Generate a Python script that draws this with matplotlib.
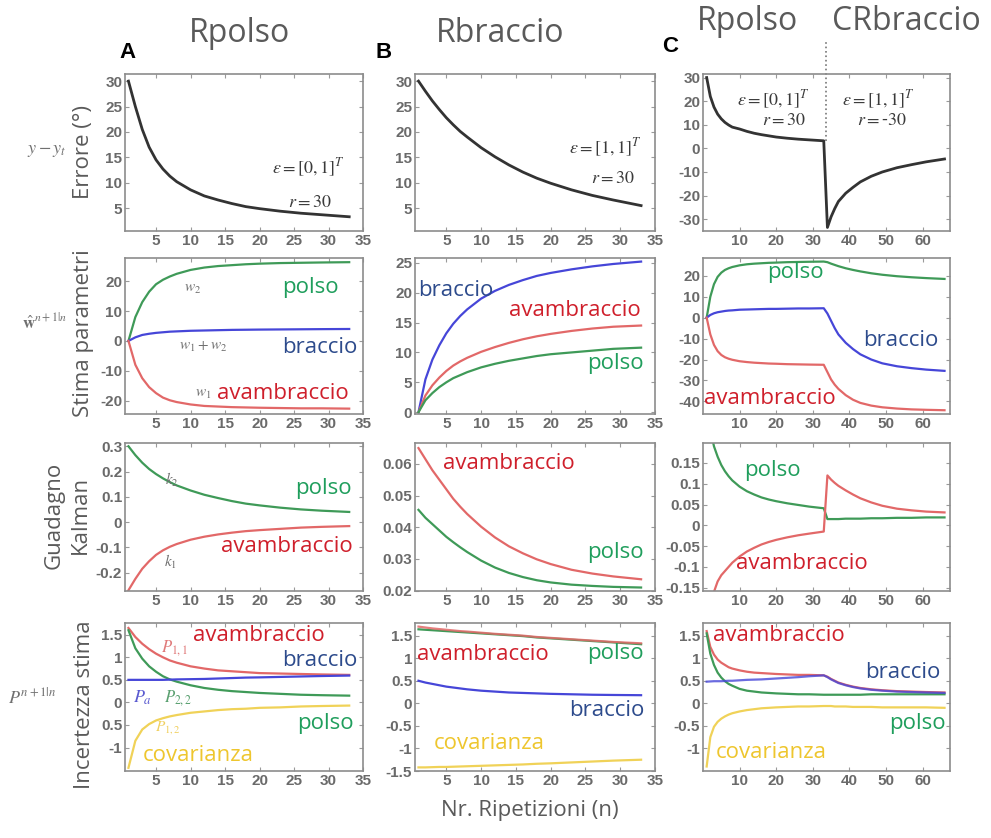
import matplotlib
matplotlib.use('Agg')
import matplotlib.pyplot as plt

# repetitions (column A/B run 1..33, column C continues to 66 after the switch)
nA = [1, 2, 3, 4, 5, 6, 7, 8, 10, 12, 14, 16, 18, 20, 23, 26, 29, 33]
nC = nA + [34, 35, 36, 37, 39, 41, 43, 46, 49, 53, 57, 61, 66]

# row 1 - errore
err_A = [30, 25, 20.5, 17, 14.5, 12.7, 11.3, 10.2, 8.6, 7.4, 6.6, 5.9, 5.3, 4.9, 4.4, 4.0, 3.7, 3.3]
err_B = [30, 28, 26.1, 24.4, 22.8, 21.4, 20.1, 19, 16.9, 15.1, 13.5, 12.1, 10.9, 9.9, 8.6, 7.5, 6.6, 5.5]
err_C = [30, 22, 17.5, 14.5, 12.5, 11, 9.9, 9.0, 8.2, 7.2, 6.4, 5.8, 5.3, 4.8, 4.3, 3.9, 3.6, 3.2,
         -33.5, -29, -25.5, -22.5, -19, -16.5, -14.2, -11.8, -10, -8.2, -6.9, -5.7, -4.5]

# row 2 - stima parametri
wA_polso = [0, 8, 13, 16.5, 19, 20.5, 21.6, 22.5, 23.8, 24.6, 25.1, 25.4, 25.7, 25.9, 26.1, 26.2, 26.3, 26.4]
wA_braccio = [0, 1.2, 2.0, 2.4, 2.7, 2.9, 3.1, 3.2, 3.4, 3.5, 3.6, 3.7, 3.75, 3.8, 3.85, 3.9, 3.95, 4.0]
wA_avamb = [0, -8, -12.5, -15.5, -17.5, -19, -19.9, -20.5, -21.3, -21.8, -22.0, -22.2, -22.3, -22.4, -22.5, -22.6, -22.6, -22.7]
wB_braccio = [0, 5.5, 8.8, 11.2, 13.2, 14.8, 16.1, 17.2, 19, 20.3, 21.3, 22.1, 22.8, 23.3, 23.9, 24.4, 24.8, 25.2]
wB_avamb = [0, 2.8, 4.5, 5.8, 6.9, 7.8, 8.5, 9.1, 10.1, 10.9, 11.6, 12.2, 12.7, 13.1, 13.6, 14, 14.3, 14.5]
wB_polso = [0, 2, 3.2, 4.2, 5, 5.7, 6.2, 6.7, 7.5, 8.1, 8.6, 9, 9.4, 9.7, 10, 10.3, 10.6, 10.8]
wC_polso = [0, 10, 16, 19.5, 21.5, 22.8, 23.6, 24.2, 25, 25.5, 25.8, 26, 26.2, 26.3, 26.5, 26.6, 26.7, 26.8,
            26.5, 25.8, 25.2, 24.6, 23.6, 22.8, 22.1, 21.2, 20.5, 19.8, 19.3, 18.9, 18.5]
wC_braccio = [0, 1.3, 2.1, 2.6, 2.9, 3.2, 3.4, 3.5, 3.8, 3.9, 4.0, 4.1, 4.2, 4.2, 4.3, 4.4, 4.4, 4.5,
              2, -1.5, -5, -8, -12, -15, -17.5, -20, -21.8, -23.2, -24.1, -24.8, -25.4]
wC_avamb = [0, -8, -13, -16, -17.8, -18.9, -19.6, -20.1, -20.8, -21.2, -21.5, -21.7, -21.9, -22, -22.2, -22.3, -22.4, -22.5,
            -26, -29.5, -32, -34, -37, -39.2, -40.7, -42, -42.8, -43.4, -43.8, -44, -44.2]

# row 3 - guadagno di Kalman
kA_polso = [0.3, 0.265, 0.235, 0.21, 0.19, 0.173, 0.158, 0.145, 0.125, 0.108, 0.095, 0.083, 0.073, 0.066, 0.057, 0.05, 0.045, 0.04]
kA_avamb = [-0.27, -0.225, -0.185, -0.155, -0.13, -0.112, -0.098, -0.087, -0.07, -0.058, -0.049, -0.042, -0.036, -0.032, -0.027, -0.022, -0.019, -0.016]
kB_avamb = [0.065, 0.0615, 0.058, 0.055, 0.052, 0.049, 0.0465, 0.0442, 0.0402, 0.0368, 0.034, 0.0318, 0.0299, 0.0284, 0.0266, 0.0254, 0.0245, 0.0236]
kB_polso = [0.0455, 0.043, 0.041, 0.039, 0.037, 0.0353, 0.0337, 0.0322, 0.0295, 0.0273, 0.0256, 0.0243, 0.0233, 0.0226, 0.0219, 0.0215, 0.0212, 0.021]
kC_polso = [0.3, 0.23, 0.19, 0.165, 0.145, 0.13, 0.118, 0.108, 0.093, 0.082, 0.074, 0.067, 0.062, 0.058, 0.053, 0.049, 0.045, 0.041,
            0.015, 0.015, 0.015, 0.015, 0.016, 0.016, 0.016, 0.017, 0.017, 0.018, 0.018, 0.019, 0.019]
kC_avamb = [-0.3, -0.22, -0.16, -0.135, -0.12, -0.11, -0.1, -0.09, -0.075, -0.063, -0.054, -0.046, -0.04, -0.035, -0.029, -0.024, -0.02, -0.015,
            0.12, 0.11, 0.102, 0.095, 0.084, 0.074, 0.065, 0.055, 0.047, 0.04, 0.036, 0.033, 0.031]

# row 4 - incertezza stima
pA_avamb = [1.65, 1.45, 1.3, 1.18, 1.08, 1.0, 0.93, 0.88, 0.8, 0.75, 0.71, 0.69, 0.67, 0.65, 0.64, 0.63, 0.62, 0.61]
pA_braccio = [0.5, 0.5, 0.5, 0.5, 0.5, 0.5, 0.505, 0.51, 0.515, 0.52, 0.53, 0.54, 0.55, 0.555, 0.565, 0.575, 0.585, 0.595]
pA_polso = [1.6, 1.2, 0.97, 0.8, 0.68, 0.58, 0.51, 0.46, 0.38, 0.32, 0.28, 0.25, 0.23, 0.21, 0.19, 0.17, 0.16, 0.15]
pA_cov = [-1.45, -0.85, -0.6, -0.48, -0.4, -0.35, -0.31, -0.28, -0.23, -0.2, -0.17, -0.15, -0.14, -0.12, -0.11, -0.09, -0.08, -0.07]
pB_avamb = [1.7, 1.68, 1.66, 1.645, 1.63, 1.615, 1.6, 1.59, 1.565, 1.54, 1.52, 1.5, 1.47, 1.45, 1.42, 1.39, 1.36, 1.33]
pB_polso = [1.64, 1.63, 1.62, 1.61, 1.6, 1.59, 1.58, 1.57, 1.55, 1.53, 1.51, 1.49, 1.46, 1.44, 1.41, 1.38, 1.35, 1.31]
pB_braccio = [0.5, 0.46, 0.43, 0.4, 0.37, 0.35, 0.33, 0.31, 0.28, 0.26, 0.24, 0.23, 0.22, 0.21, 0.2, 0.19, 0.185, 0.18]
pB_cov = [-1.42, -1.42, -1.415, -1.41, -1.41, -1.405, -1.4, -1.395, -1.385, -1.375, -1.365, -1.355, -1.34, -1.33, -1.31, -1.29, -1.27, -1.25]
pC_avamb = [1.6, 1.25, 1.08, 0.97, 0.9, 0.85, 0.8, 0.77, 0.73, 0.7, 0.68, 0.67, 0.66, 0.65, 0.64, 0.63, 0.63, 0.62,
            0.59, 0.54, 0.5, 0.46, 0.41, 0.37, 0.34, 0.31, 0.29, 0.27, 0.26, 0.25, 0.24]
pC_braccio = [0.48, 0.485, 0.49, 0.49, 0.49, 0.495, 0.5, 0.5, 0.51, 0.52, 0.525, 0.53, 0.54, 0.55, 0.565, 0.58, 0.6, 0.62,
              0.58, 0.53, 0.49, 0.45, 0.4, 0.36, 0.33, 0.3, 0.28, 0.26, 0.25, 0.24, 0.23]
pC_polso = [1.55, 1.1, 0.85, 0.68, 0.57, 0.49, 0.43, 0.39, 0.32, 0.28, 0.26, 0.24, 0.23, 0.22, 0.21, 0.2, 0.2, 0.19,
            0.19, 0.19, 0.19, 0.19, 0.19, 0.19, 0.19, 0.2, 0.2, 0.2, 0.2, 0.2, 0.2]
pC_cov = [-1.4, -0.75, -0.52, -0.41, -0.34, -0.29, -0.25, -0.22, -0.18, -0.15, -0.13, -0.11, -0.1, -0.09, -0.08, -0.07, -0.07, -0.06,
          -0.06, -0.06, -0.07, -0.07, -0.07, -0.08, -0.08, -0.08, -0.09, -0.09, -0.09, -0.09, -0.1]

col_titles = ['Rpolso', 'Rbraccio']
row_labels = ['Errore (°)', 'Stima parametri', 'Kalman', 'Incertezza stima']

# colours
L_GREEN, L_RED, L_BLUE, L_YEL, L_BLACK = '#3f9a58', '#e26868', '#4646d8', '#f0d258', '#333333'
T_GREEN, T_RED, T_BLUE, T_YEL = '#1f9e5c', '#cf1f2b', '#2d4b8c', '#eec62e'
GREY = '#5a5a5a'

plt.rcParams['font.family'] = ['Open Sans', 'DejaVu Sans']
plt.rcParams['mathtext.fontset'] = 'stix'

W, H = 991, 838
fig = plt.figure(figsize=(W / 100, H / 100), dpi=100)


def px_axes(left, top, right, bottom):
    return fig.add_axes([left / W, 1 - bottom / H, (right - left) / W, (bottom - top) / H])


def ftext(x, y, s, **kw):
    kw.setdefault('ha', 'center')
    kw.setdefault('va', 'center')
    fig.text(x / W, 1 - y / H, s, **kw)


def style(ax, xlim, xticks, ylim, yticks, ylabels=None):
    ax.set_xlim(xlim)
    ax.set_ylim(ylim)
    ax.set_xticks(xticks)
    ax.set_yticks(yticks)
    if ylabels is None:
        ylabels = ['%g' % v for v in yticks]
    tfont = dict(family='Liberation Sans', fontweight='bold', fontsize=11, color='#6a6a6a')
    ax.set_xticklabels(['%g' % v for v in xticks], **tfont)
    ax.set_yticklabels(ylabels, **tfont)
    ax.tick_params(direction='in', length=3, width=0.8, color='#9a9a9a',
                   top=True, right=True, pad=2)
    for s in ax.spines.values():
        s.set_color('#8c8c8c')
        s.set_linewidth(1.2)


cols = [(125, 363), (415, 655), (703, 950)]
rows = [(74, 231), (258, 414), (443, 591), (623, 771)]
axs = [[px_axes(c[0], r[0], c[1], r[1]) for c in cols] for r in rows]

xAB = dict(xlim=(0.5, 35), xticks=[5, 10, 15, 20, 25, 30, 35])
xC = dict(xlim=(0, 67.5), xticks=[10, 20, 30, 40, 50, 60])
lw = 1.6

# row 1
ax = axs[0][0]
ax.plot(nA, err_A, color=L_BLACK, lw=2)
style(ax, ylim=(0.5, 31.4), yticks=[5, 10, 15, 20, 25, 30], **xAB)
ax = axs[0][1]
ax.plot(nA, err_B, color=L_BLACK, lw=2)
style(ax, ylim=(0.5, 31.4), yticks=[5, 10, 15, 20, 25, 30], **xAB)
ax = axs[0][2]
ax.plot(nC, err_C, color=L_BLACK, lw=2)
ax.plot([33.5, 33.5], [3.2, 45], ls=':', color='#777777', lw=1.2, clip_on=False)
style(ax, ylim=(-35, 31.5), yticks=[-30, -20, -10, 0, 10, 20, 30], **xC)

# row 2
ax = axs[1][0]
ax.plot(nA, wA_polso, color=L_GREEN, lw=lw)
ax.plot(nA, wA_braccio, color=L_BLUE, lw=lw)
ax.plot(nA, wA_avamb, color=L_RED, lw=lw)
style(ax, ylim=(-24.5, 27.8), yticks=[-20, -10, 0, 10, 20], **xAB)
ax = axs[1][1]
ax.plot(nA, wB_braccio, color=L_BLUE, lw=lw)
ax.plot(nA, wB_avamb, color=L_RED, lw=lw)
ax.plot(nA, wB_polso, color=L_GREEN, lw=lw)
style(ax, ylim=(-0.3, 25.8), yticks=[0, 5, 10, 15, 20, 25], **xAB)
ax = axs[1][2]
ax.plot(nC, wC_polso, color=L_GREEN, lw=lw)
ax.plot(nC, wC_braccio, color=L_BLUE, lw=lw)
ax.plot(nC, wC_avamb, color=L_RED, lw=lw)
style(ax, ylim=(-46, 28.5), yticks=[-40, -30, -20, -10, 0, 10, 20], **xC)

# row 3
ax = axs[2][0]
ax.plot(nA, kA_polso, color=L_GREEN, lw=lw)
ax.plot(nA, kA_avamb, color=L_RED, lw=lw)
style(ax, ylim=(-0.273, 0.313), yticks=[-0.2, -0.1, 0, 0.1, 0.2, 0.3], **xAB)
ax = axs[2][1]
ax.plot(nA, kB_avamb, color=L_RED, lw=lw)
ax.plot(nA, kB_polso, color=L_GREEN, lw=lw)
style(ax, ylim=(0.0199, 0.0666), yticks=[0.02, 0.03, 0.04, 0.05, 0.06], **xAB)
ax = axs[2][2]
ax.plot(nC, kC_polso, color=L_GREEN, lw=lw)
ax.plot(nC, kC_avamb, color=L_RED, lw=lw)
style(ax, ylim=(-0.158, 0.198), yticks=[-0.15, -0.1, -0.05, 0, 0.05, 0.1, 0.15], **xC)

# row 4
ax = axs[3][0]
ax.plot(nA, pA_avamb, color=L_RED, lw=lw)
ax.plot(nA, pA_polso, color=L_GREEN, lw=lw)
ax.plot(nA, pA_braccio, color=L_BLUE, lw=lw)
ax.plot(nA, pA_cov, color=L_YEL, lw=lw)
style(ax, ylim=(-1.52, 1.76), yticks=[-1, -0.5, 0, 0.5, 1, 1.5],
      ylabels=['-1', '0.5', '0', '0.5', '1', '1.5'], **xAB)
ax = axs[3][1]
ax.plot(nA, pB_polso, color=L_GREEN, lw=lw)
ax.plot(nA, pB_avamb, color=L_RED, lw=lw, alpha=0.85)
ax.plot(nA, pB_braccio, color=L_BLUE, lw=lw)
ax.plot(nA, pB_cov, color=L_YEL, lw=lw)
style(ax, ylim=(-1.5, 1.78), yticks=[-1.5, -1, -0.5, 0, 0.5, 1, 1.5], **xAB)
ax = axs[3][2]
ax.plot(nC, pC_avamb, color=L_RED, lw=lw)
ax.plot(nC, pC_polso, color=L_GREEN, lw=lw)
ax.plot(nC, pC_braccio, color=L_BLUE, lw=lw, alpha=0.8)
ax.plot(nC, pC_cov, color=L_YEL, lw=lw)
style(ax, ylim=(-1.5, 1.78), yticks=[-1, -0.5, 0, 0.5, 1, 1.5], **xC)

# column titles and panel letters
ftext(240, 33, col_titles[0], fontsize=23, color=GREY)
ftext(500, 33, col_titles[1], fontsize=23, color=GREY)
ftext(748, 22, 'Rpolso', fontsize=23, color=GREY)
ftext(906, 22, 'CRbraccio', fontsize=23, color=GREY)
for x, y, s in [(127, 53, 'A'), (384, 52, 'B'), (670, 46, 'C')]:
    ftext(x, y, s, fontsize=16, fontweight='bold', color='black', family='Liberation Sans')

# row labels
ftext(83, 152, row_labels[0], fontsize=16, color=GREY, rotation=90)
ftext(83, 333, row_labels[1], fontsize=16, color=GREY, rotation=90)
ftext(54, 515, 'Guadagno', fontsize=16, color=GREY, rotation=90)
ftext(80, 515, row_labels[2], fontsize=16, color=GREY, rotation=90)
ftext(85, 705, row_labels[3], fontsize=16, color=GREY, rotation=90)
ftext(530, 810, 'Nr. Ripetizioni (n)', fontsize=16, color=GREY)

MATH = dict(color='#707070')
ftext(47, 150, r'$y - y_t$', fontsize=13, **MATH)
ftext(45, 322, r'$\hat{\mathbf{w}}^{n+1|n}$', fontsize=12, **MATH)
ftext(32, 697, r'$P^{n+1|n}$', fontsize=13, **MATH)

# row 1 annotations
EPS = dict(color='#3a3a3a', fontsize=13)
ftext(308, 168, r'$\epsilon=\left[0,1\right]^T$', **EPS)
ftext(310, 202, r'$r = 30$', **EPS)
ftext(605, 148, r'$\epsilon=\left[1,1\right]^T$', **EPS)
ftext(613, 178, r'$r = 30$', **EPS)
ftext(773, 100, r'$\epsilon=\left[0,1\right]^T$', **EPS)
ftext(784, 120, r'$r = 30$', **EPS)
ftext(878, 100, r'$\epsilon=\left[1,1\right]^T$', **EPS)
ftext(882, 120, r'$r = $-$30$', **EPS)

LBL = dict(fontsize=16)
# row 2 labels
ftext(193, 289, r'$w_2$', fontsize=11, **MATH)
ftext(310, 287, 'polso', color=T_GREEN, **LBL)
ftext(203, 346, r'$w_1 + w_2$', fontsize=11, **MATH)
ftext(320, 347, 'braccio', color=T_BLUE, **LBL)
ftext(203, 393, r'$w_1$', fontsize=11, **MATH)
ftext(283, 393, 'avambraccio', color=T_RED, **LBL)
ftext(456, 290, 'braccio', color=T_BLUE, **LBL)
ftext(575, 310, 'avambraccio', color=T_RED, **LBL)
ftext(615, 363, 'polso', color=T_GREEN, **LBL)
ftext(795, 272, 'polso', color=T_GREEN, **LBL)
ftext(901, 340, 'braccio', color=T_BLUE, **LBL)
ftext(770, 398, 'avambraccio', color=T_RED, **LBL)

# row 3 labels
ftext(172, 480, r'$k_2$', fontsize=11, **MATH)
ftext(323, 488, 'polso', color=T_GREEN, **LBL)
ftext(170, 562, r'$k_1$', fontsize=11, **MATH)
ftext(287, 547, 'avambraccio', color=T_RED, **LBL)
ftext(509, 463, 'avambraccio', color=T_RED, **LBL)
ftext(615, 552, 'polso', color=T_GREEN, **LBL)
ftext(772, 470, 'polso', color=T_GREEN, **LBL)
ftext(802, 563, 'avambraccio', color=T_RED, **LBL)

# row 4 labels
ftext(259, 635, 'avambraccio', color=T_RED, **LBL)
ftext(175, 648, r'$P_{1,1}$', fontsize=12, color='#e07a7a')
ftext(320, 660, 'braccio', color=T_BLUE, **LBL)
ftext(143, 698, r'$P_a$', fontsize=13, color='#5a5ad0')
ftext(178, 698, r'$P_{2,2}$', fontsize=12, color='#5aa070')
ftext(325, 723, 'polso', color=T_GREEN, **LBL)
ftext(168, 728, r'$P_{1,2}$', fontsize=11, color='#f0d060')
ftext(198, 755, 'covarianza', color=T_YEL, **LBL)
ftext(483, 655, 'avambraccio', color=T_RED, **LBL)
ftext(615, 653, 'polso', color=T_GREEN, **LBL)
ftext(607, 710, 'braccio', color=T_BLUE, **LBL)
ftext(489, 743, 'covarianza', color=T_YEL, **LBL)
ftext(779, 635, 'avambraccio', color=T_RED, **LBL)
ftext(903, 673, 'braccio', color=T_BLUE, **LBL)
ftext(917, 723, 'polso', color=T_GREEN, **LBL)
ftext(771, 753, 'covarianza', color=T_YEL, **LBL)

fig.savefig('out.png', dpi=100)
